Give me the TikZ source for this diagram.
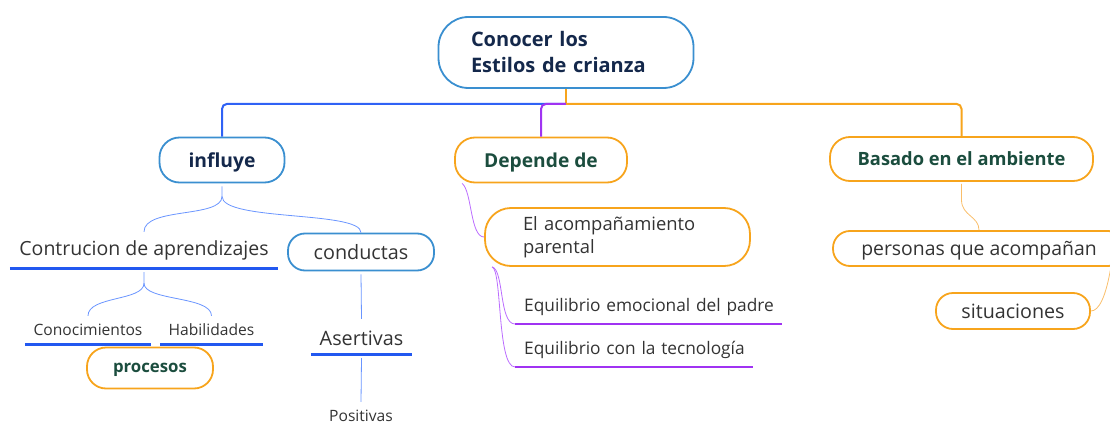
\documentclass[tikz,border=0pt]{standalone}
\usepackage{fontspec}
\setmainfont{Open Sans}
\usetikzlibrary{positioning}
\definecolor{boxblue}{HTML}{3A8FD0}
\definecolor{lineblue}{HTML}{2F62F5}
\definecolor{thinblue}{HTML}{6A95FF}
\definecolor{ulblue}{HTML}{2258F0}
\definecolor{orng}{HTML}{F7A41C}
\definecolor{thinorng}{HTML}{F9BE6A}
\definecolor{purp}{HTML}{A033F2}
\definecolor{thinpurp}{HTML}{BB6CFF}
\definecolor{navy}{HTML}{14284B}
\definecolor{darkgreen}{HTML}{1B4D3E}
\definecolor{txtgray}{HTML}{333333}
\tikzset{
  >=latex,
}
\tikzstyle{every node}=[font=\fontsize{18.4}{23}\selectfont,text=txtgray,inner sep=0pt]
\tikzstyle{topic}=[draw=boxblue,line width=1.8pt,rounded corners=20pt,minimum height=45pt,text depth=0pt]
\tikzstyle{otopic}=[topic,draw=orng]
\tikzstyle{leaf}=[font=\fontsize{15.6}{18}\selectfont]
\tikzstyle{uline}=[line width=2.6pt,ulblue]
\tikzstyle{pline}=[line width=2.6pt,purp]

\begin{document}
\begin{tikzpicture}[x=1pt,y=-1pt]
    \useasboundingbox (0,0) rectangle (1110,425);
    \node[topic,text depth=,rounded corners=30pt,minimum width=255pt,minimum height=71pt,align=left,
      text width=190pt,font=\fontsize{20}{26}\selectfont\bfseries,text=navy] (root) at (566,52.5)
      {Conocer los\\Estilos de crianza};
    \node[topic,minimum width=125pt,font=\fontsize{19.3}{22}\selectfont\bfseries,text=navy]
      (influye) at (222,160) {influye};
    \node[otopic,minimum width=172pt,font=\fontsize{19.2}{22}\selectfont\bfseries,text=darkgreen]
      (depende) at (541,160) {Depende de};
    \node[otopic,minimum width=263pt,minimum height=44pt,font=\fontsize{18.3}{22}\selectfont\bfseries,
      text=darkgreen] (basado) at (961.5,159) {Basado en el ambiente};
    \draw[orng,line width=2pt] (root.south) -- ++(0,15) coordinate (hub);
    \draw[lineblue,line width=2pt,rounded corners=5pt] (hub) -| (influye.north);
    \draw[purp,line width=2pt,rounded corners=5pt] (hub) -| (depende.north);
    \draw[orng,line width=2pt,rounded corners=5pt] (hub) -| (basado.north);
    % influye
    \node[minimum width=268pt,minimum height=36pt,font=\fontsize{19.5}{22}\selectfont]
      (ca) at (144,250) {Contrucion de aprendizajes};
    \draw[uline] (ca.south west) -- (ca.south east);
    \node[topic,rounded corners=17pt,minimum width=146pt,minimum height=37pt,
      font=\fontsize{19.8}{22}\selectfont] (conductas) at (361,252) {conductas};
    \draw[thinblue,thick] ([yshift=-3pt]influye.south) -- ++(0,10) coordinate (ib)
      .. controls +(0,22) and +(0,-25) .. (ca.north);
    \draw[thinblue,thick] (ib) .. controls +(0,25) and +(0,-22) .. (conductas.north);
    \node[leaf,minimum width=126pt,minimum height=28pt] (cono) at (88,330) {Conocimientos};
    \node[leaf,minimum width=103pt,minimum height=28pt] (habil) at (211.5,330) {Habilidades};
    \draw[uline] (cono.south west) -- (cono.south east);
    \draw[uline] (habil.south west) -- (habil.south east);
    \draw[thinblue,thick] ([yshift=-4pt]ca.south) -- ++(0,11) coordinate (cb)
      .. controls +(0,18) and +(0,-20) .. (cono.north);
    \draw[thinblue,thick] (cb) .. controls +(0,18) and +(0,-20) .. (habil.north);
    \node[otopic,rounded corners=19pt,minimum width=126pt,minimum height=41pt,
      font=\fontsize{16.8}{20}\selectfont\bfseries,text=darkgreen] (procesos) at (150,368) {procesos};
    \node[minimum width=101pt,minimum height=32pt,font=\fontsize{19.8}{22}\selectfont]
      (asert) at (361.5,338) {Asertivas};
    \draw[uline] (asert.south west) -- (asert.south east);
    \node[leaf,minimum height=28pt] (posit) at (361,416) {Positivas};
    \draw[thinblue,thick] ([yshift=-3pt]conductas.south) -- ([yshift=3pt]asert.north);
    \draw[thinblue,thick] ([yshift=-4pt]asert.south) -- (posit.north);
    % depende de
    \node[otopic,text depth=,rounded corners=26pt,minimum width=265pt,minimum height=58pt,
      text width=189pt,align=left] (acomp) at (617.5,237) {El acompañamiento\\parental};
    \draw[thinpurp,thick] ([xshift=8pt]depende.south west) .. controls +(10,8) and +(-14,0) .. (acomp.west);
    \node[anchor=south west,minimum height=34pt,text width=258pt,align=left,
      font=\fontsize{17.3}{20}\selectfont] (eq1) at (524,324) {Equilibrio emocional del padre};
    \node[anchor=south west,minimum height=34pt,text width=229pt,align=left,
      font=\fontsize{17.3}{20}\selectfont] (eq2) at (524,367) {Equilibrio con la tecnología};
    \draw[pline] ([xshift=-9pt]eq1.south west) -- (eq1.south east);
    \draw[pline] ([xshift=-9pt]eq2.south west) -- (eq2.south east);
    \draw[thinpurp,thick] ([xshift=8pt]acomp.south west) .. controls +(12,3) and +(-16,0) .. ([xshift=-9pt]eq1.south west);
    \draw[thinpurp,thick] ([xshift=8pt]acomp.south west) .. controls +(10,3) and +(-18,0) .. ([xshift=-9pt]eq2.south west);
    % basado en el ambiente
    \node[otopic,rounded corners=17pt,minimum width=292pt,minimum height=35pt,
      font=\fontsize{19.4}{22}\selectfont] (personas) at (979,248.5) {personas que acompañan};
    \node[otopic,rounded corners=17pt,minimum width=154pt,minimum height=36pt,
      font=\fontsize{19.7}{22}\selectfont] (situ) at (1013,311) {situaciones};
    \draw[thinorng,thick] ([yshift=-2pt]basado.south) -- ++(0,16)
      .. controls +(0,16) and +(0,-14) .. (personas.north);
    \draw[thinorng,thick] ([xshift=-15pt]personas.south east) .. controls +(-5,30) and +(8,0) .. (situ.east);
  \end{tikzpicture}
\end{document}
